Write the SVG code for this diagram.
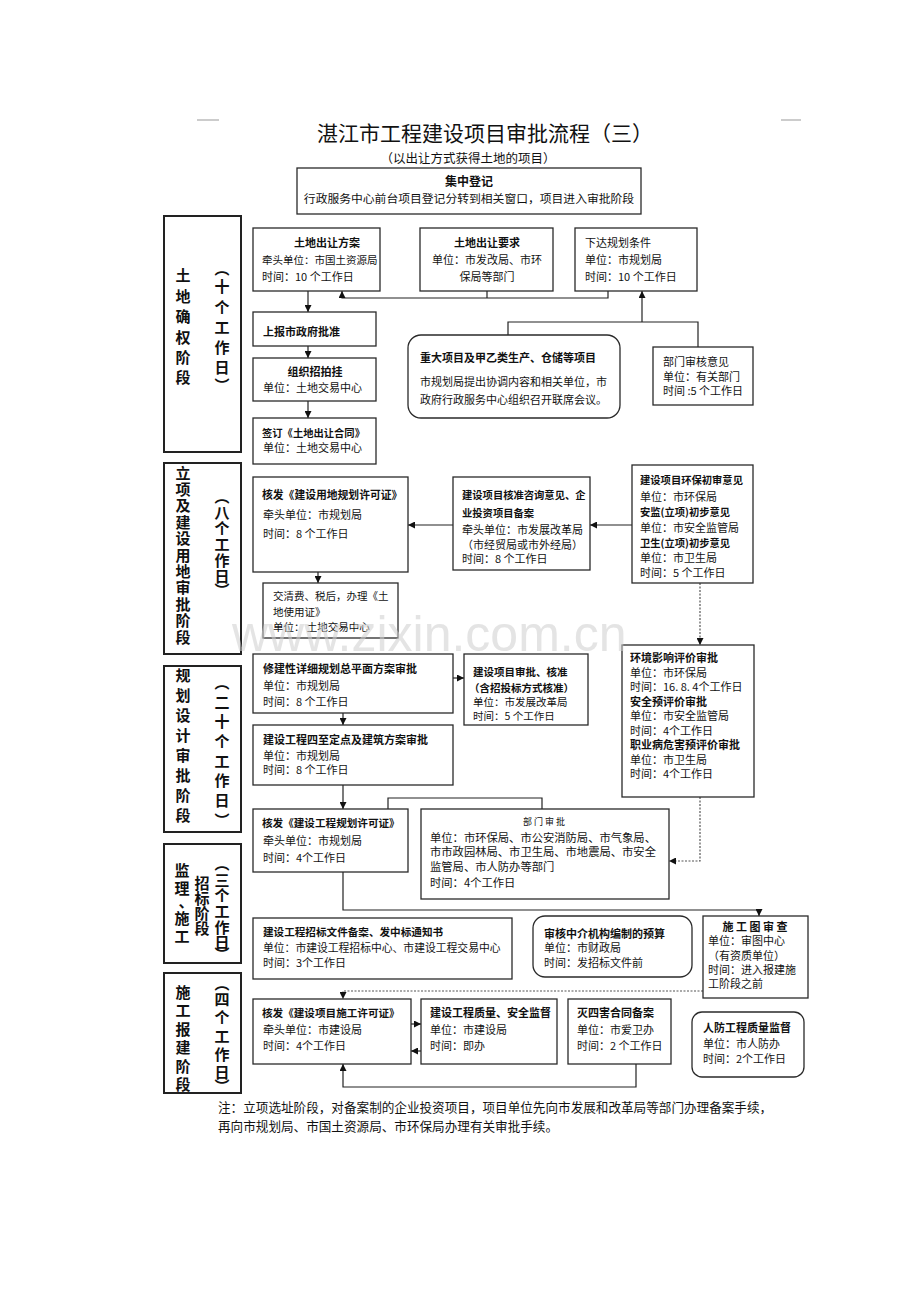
<svg xmlns="http://www.w3.org/2000/svg" width="920" height="1302" viewBox="0 0 920 1302">
<style>
text{font-family:"Noto Sans CJK SC","Noto Sans",sans-serif;fill:#111}
.t{font-size:11px}
.b{font-weight:bold}
.m{text-anchor:middle}
.box{fill:#fff;stroke:#2a2a2a;stroke-width:1.3}
.stg{fill:#fff;stroke:#222;stroke-width:2}
.st{font-size:15px;font-weight:bold;text-anchor:middle}
.ln{fill:none;stroke:#222;stroke-width:1.2}
.dt{fill:none;stroke:#555;stroke-width:1.2;stroke-dasharray:2 1.5}
.mk{fill:none;stroke:#999;stroke-width:1}
</style>
<defs>
<marker id="ah" viewBox="0 0 10 10" refX="10" refY="5" markerWidth="7" markerHeight="7" markerUnits="userSpaceOnUse" orient="auto"><path d="M0,0 L10,5 L0,10 z" fill="#111"/></marker>
</defs>
<rect width="920" height="1302" fill="#fff"/>
<line class="mk" x1="197" y1="120" x2="219" y2="120"/>
<line class="mk" x1="781" y1="120" x2="801" y2="120"/>
<g id="title">
<text x="485" y="141" class="m" style="font-size:21px">湛江市工程建设项目审批流程（三）</text>
<text x="468" y="163" class="m" style="font-size:12.5px">（以出让方式获得土地的项目）</text>
</g>
<g id="connectors">
<line class="ln" x1="308" y1="291" x2="308" y2="312" marker-end="url(#ah)"/>
<polyline class="ln" points="608,291 608,298 342,298 342,291" marker-end="url(#ah)"/>
<line class="ln" x1="487" y1="291" x2="487" y2="298"/>
<line class="ln" x1="642" y1="322" x2="642" y2="291" marker-end="url(#ah)"/>
<polyline class="ln" points="508,335 508,322 698,322 698,347"/>
<line class="ln" x1="308" y1="346" x2="308" y2="358" marker-end="url(#ah)"/>
<line class="ln" x1="308" y1="401" x2="308" y2="418" marker-end="url(#ah)"/>
<line class="ln" x1="453" y1="525" x2="408" y2="525" marker-end="url(#ah)"/>
<line class="ln" x1="632" y1="525" x2="590" y2="525" marker-end="url(#ah)"/>
<line class="ln" x1="318" y1="572" x2="318" y2="583" marker-end="url(#ah)"/>
<line class="dt" x1="700" y1="583" x2="700" y2="645" marker-end="url(#ah)"/>
<line class="ln" x1="453" y1="678" x2="464" y2="678" marker-end="url(#ah)"/>
<line class="ln" x1="343" y1="713" x2="343" y2="725" marker-end="url(#ah)"/>
<line class="ln" x1="343" y1="785" x2="343" y2="809" marker-end="url(#ah)"/>
<polyline class="ln" points="388,809 388,798 542,798 542,809"/>
<polyline class="dt" points="700,797 700,861 669,861" marker-end="url(#ah)"/>
<polyline class="ln" points="343,872 343,910 759,910 759,916" marker-end="url(#ah)"/>
<polyline class="dt" points="703,991 343,991 343,999" marker-end="url(#ah)"/>
<line class="ln" x1="411" y1="1024" x2="421" y2="1024" marker-end="url(#ah)"/>
<line class="ln" x1="421" y1="1051" x2="411" y2="1051" marker-end="url(#ah)"/>
<polyline class="ln" points="636,1064 636,1087 343,1087 343,1064" marker-end="url(#ah)"/>
</g>
<g id="stage1">
<rect class="stg" x="164" y="216" width="77" height="236"/>
<text class="st" x="183 183 183 183 183 183" y="280.5 301.5 321.5 342.5 362.5 382.5">土地确权阶段</text>
<text class="st" x="222 222 222 222 222 222 222" y="273.5 291.5 312.5 332.5 352.5 372.5 390.5">︵十个工作日︶</text>
</g>
<g id="stage2">
<rect class="stg" x="164" y="463" width="77" height="191"/>
<text class="st" x="183 183 183 183 183 183 183 183 183 183 183" y="478.5 494.9 511.3 527.7 544.1 560.5 576.9 593.3 609.7 626.1 642.5">立项及建设用地审批阶段</text>
<text class="st" x="222 222 222 222 222 222 222" y="501.5 517.5 533.5 549.5 565.5 581.5 595.5">︵八个工作日︶</text>
</g>
<g id="stage3">
<rect class="stg" x="164" y="666" width="77" height="166"/>
<text class="st" x="183 183 183 183 183 183 183 183" y="680.5 700.5 720.5 740.5 760.5 780.5 800.5 820.5">规划设计审批阶段</text>
<text class="st" x="222 222 222 222 222 222 222 222" y="687.5 707.5 726.5 746.5 766.5 785.5 805.5 825.5">︵二十个工作日︶</text>
</g>
<g id="stage4">
<rect class="stg" x="164" y="844" width="77" height="119"/>
<text class="st" x="182 182 186 182 182" y="875.5 893.5 906.5 923.5 941.5">监理、施工</text>
<text class="st" x="202 202 202 202" y="888.5 903.5 918.5 933.5">招标阶段</text>
<text class="st" x="222 222 222 222 222 222 222" y="868.5 885.5 900.5 916.5 932.5 947.5 959.5">︵三个工作日︶</text>
</g>
<g id="stage5">
<rect class="stg" x="164" y="973" width="77" height="120"/>
<text class="st" x="183 183 183 183 183 183" y="997.5 1015.5 1034.5 1052.5 1071.5 1089.5">施工报建阶段</text>
<text class="st" x="222 222 222 222 222 222 222" y="988.5 1004.5 1022.5 1041.5 1059.5 1077.5 1091.5">︵四个工作日︶</text>
</g>
<g id="n-jizhong">
<rect class="box" x="297" y="168" width="344" height="46"/>
<text class="t b m" x="469" y="185.5" style="font-size:12px">集中登记</text>
<text class="t m" x="469" y="202.5" style="font-size:11.8px">行政服务中心前台项目登记分转到相关窗口，项目进入审批阶段</text>
</g>
<g id="n-tdfa">
<rect class="box" x="253" y="228" width="127" height="63"/>
<text class="t b m" x="327" y="247">土地出让方案</text>
<text class="t" x="262" y="264" style="font-size:10.5px">牵头单位：市国土资源局</text>
<text class="t" x="262" y="281">时间：10 个工作日</text>
</g>
<g id="n-tdyq">
<rect class="box" x="420" y="228" width="133" height="63"/>
<text class="t b m" x="487" y="247">土地出让要求</text>
<text class="t m" x="487" y="264">单位：市发改局、市环</text>
<text class="t m" x="487" y="281">保局等部门</text>
</g>
<g id="n-xdgh">
<rect class="box" x="575" y="228" width="122" height="63"/>
<text class="t" x="585" y="247">下达规划条件</text>
<text class="t" x="585" y="264">单位：市规划局</text>
<text class="t" x="585" y="281">时间：10 个工作日</text>
</g>
<g id="n-sbzf">
<rect class="box" x="253" y="312" width="123" height="34"/>
<text class="t b" x="263" y="336">上报市政府批准</text>
</g>
<g id="n-zzzpg">
<rect class="box" x="253" y="358" width="123" height="43"/>
<text class="t b m" x="315" y="376">组织招拍挂</text>
<text class="t" x="263" y="392">单位：土地交易中心</text>
</g>
<g id="n-qd">
<rect class="box" x="253" y="418" width="123" height="46"/>
<text class="t b" x="262" y="437" style="font-size:10.3px">签订《土地出让合同》</text>
<text class="t" x="263" y="452">单位：土地交易中心</text>
</g>
<g id="n-zdxm">
<rect class="box" x="408" y="335" width="212" height="83" rx="13"/>
<text class="t b" x="420" y="362">重大项目及甲乙类生产、仓储等项目</text>
<text class="t" x="420" y="386">市规划局提出协调内容和相关单位，市</text>
<text class="t" x="420" y="404">政府行政服务中心组织召开联席会议。</text>
</g>
<g id="n-bmsh">
<rect class="box" x="653" y="347" width="100" height="58"/>
<text class="t" x="663" y="366">部门审核意见</text>
<text class="t" x="663" y="381">单位：有关部门</text>
<text class="t" x="663" y="395">时间 :5 个工作日</text>
</g>
<g id="n-hfyd">
<rect class="box" x="253" y="477" width="155" height="95"/>
<text class="t b" x="262" y="499" style="font-size:10.8px">核发《建设用地规划许可证》</text>
<text class="t" x="263" y="519">牵头单位：市规划局</text>
<text class="t" x="263" y="538">时间：8 个工作日</text>
</g>
<g id="n-hz">
<rect class="box" x="453" y="477" width="137" height="93"/>
<text class="t b" x="462" y="499" style="font-size:10.3px">建设项目核准咨询意见、企</text>
<text class="t b" x="462" y="517" style="font-size:10.3px">业投资项目备案</text>
<text class="t" x="462" y="534">牵头单位：市发展改革局</text>
<text class="t" x="462" y="549">（市经贸局或市外经局）</text>
<text class="t" x="462" y="563">时间：8 个工作日</text>
</g>
<g id="n-hb">
<rect class="box" x="632" y="465" width="121" height="118"/>
<text class="t b" x="640" y="484" style="font-size:10.3px">建设项目环保初审意见</text>
<text class="t" x="640" y="501">单位：市环保局</text>
<text class="t b" x="640" y="516" style="font-size:10.3px">安监(立项)初步意见</text>
<text class="t" x="640" y="532">单位：市安全监管局</text>
<text class="t b" x="640" y="547" style="font-size:10.3px">卫生(立项)初步意见</text>
<text class="t" x="640" y="562">单位：市卫生局</text>
<text class="t" x="640" y="577">时间：5 个工作日</text>
</g>
<g id="n-jqf">
<rect class="box" x="263" y="583" width="135" height="55"/>
<text class="t" x="273" y="600" style="font-size:10.5px">交清费、税后，办理《土</text>
<text class="t" x="273" y="616" style="font-size:10.5px">地使用证》</text>
<text class="t" x="273" y="631" style="font-size:10.5px">单位： 土地交易中心</text>
</g>
<g id="n-xjx">
<rect class="box" x="253" y="654" width="200" height="59"/>
<text class="t b" x="263" y="673">修建性详细规划总平面方案审批</text>
<text class="t" x="263" y="690">单位：市规划局</text>
<text class="t" x="263" y="706">时间：8 个工作日</text>
</g>
<g id="n-jssp">
<rect class="box" x="464" y="654" width="124" height="71"/>
<text class="t b" x="473" y="676" style="font-size:10.5px">建设项目审批、核准</text>
<text class="t b" x="469" y="692" style="font-size:10.5px">（含招投标方式核准）</text>
<text class="t" x="473" y="706" style="font-size:10.5px">单位：市发展改革局</text>
<text class="t" x="473" y="720" style="font-size:10.5px">时间：5 个工作日</text>
</g>
<g id="n-szdd">
<rect class="box" x="253" y="725" width="200" height="60"/>
<text class="t b" x="263" y="744">建设工程四至定点及建筑方案审批</text>
<text class="t" x="263" y="760">单位：市规划局</text>
<text class="t" x="263" y="774">时间：8 个工作日</text>
</g>
<g id="n-hjyx">
<rect class="box" x="622" y="645" width="132" height="152"/>
<text class="t b" x="630" y="662">环境影响评价审批</text>
<text class="t" x="630" y="677">单位：市环保局</text>
<text class="t" x="630" y="691">时间：16. 8. 4个工作日</text>
<text class="t b" x="630" y="706">安全预评价审批</text>
<text class="t" x="630" y="720">单位：市安全监管局</text>
<text class="t" x="630" y="735">时间：4个工作日</text>
<text class="t b" x="630" y="749">职业病危害预评价审批</text>
<text class="t" x="630" y="764">单位：市卫生局</text>
<text class="t" x="630" y="778">时间：4个工作日</text>
</g>
<g id="n-hfgh">
<rect class="box" x="253" y="809" width="155" height="63"/>
<text class="t b" x="262" y="827" style="font-size:10.6px">核发《建设工程规划许可证》</text>
<text class="t" x="263" y="845">牵头单位：市规划局</text>
<text class="t" x="263" y="862">时间：4个工作日</text>
</g>
<g id="n-bmsp">
<rect class="box" x="421" y="809" width="248" height="90"/>
<text class="t m" x="544" y="825" style="font-size:9px">部 门 审 批</text>
<text class="t" x="430" y="842" style="font-size:11.3px">单位：市环保局、市公安消防局、市气象局、</text>
<text class="t" x="430" y="856" style="font-size:11.3px">市市政园林局、市卫生局、市地震局、市安全</text>
<text class="t" x="430" y="871" style="font-size:11.3px">监管局、市人防办等部门</text>
<text class="t" x="430" y="887" style="font-size:11.3px">时间：4个工作日</text>
</g>
<g id="n-zbwj">
<rect class="box" x="253" y="918" width="259" height="61"/>
<text class="t b" x="263" y="936" style="font-size:10.6px">建设工程招标文件备案、发中标通知书</text>
<text class="t" x="263" y="952" style="font-size:10.8px">单位：市建设工程招标中心、市建设工程交易中心</text>
<text class="t" x="263" y="967">时间：3个工作日</text>
</g>
<g id="n-shzj">
<rect class="box" x="533" y="916" width="159" height="61" rx="12"/>
<text class="t b" x="544" y="938">审核中介机构编制的预算</text>
<text class="t" x="544" y="952">单位：市财政局</text>
<text class="t" x="544" y="967">时间：发招标文件前</text>
</g>
<g id="n-sgt">
<rect class="box" x="703" y="916" width="105" height="82"/>
<text class="t b m" x="755" y="931">施 工 图 审 查</text>
<text class="t" x="708" y="945">单位：审图中心</text>
<text class="t" x="708" y="960">（有资质单位）</text>
<text class="t" x="708" y="974">时间：进入报建施</text>
<text class="t" x="708" y="988">工阶段之前</text>
</g>
<g id="n-hfsg">
<rect class="box" x="253" y="999" width="158" height="65"/>
<text class="t b" x="262" y="1017" style="font-size:10.6px">核发《建设项目施工许可证》</text>
<text class="t" x="263" y="1034">牵头单位：市建设局</text>
<text class="t" x="263" y="1050">时间：4个工作日</text>
</g>
<g id="n-zljd">
<rect class="box" x="421" y="999" width="136" height="65"/>
<text class="t b" x="430" y="1017">建设工程质量、安全监督</text>
<text class="t" x="430" y="1034">单位：市建设局</text>
<text class="t" x="430" y="1050">时间：即办</text>
</g>
<g id="n-mshs">
<rect class="box" x="568" y="999" width="103" height="65"/>
<text class="t b" x="577" y="1017">灭四害合同备案</text>
<text class="t" x="577" y="1034">单位：市爱卫办</text>
<text class="t" x="577" y="1050">时间：2 个工作日</text>
</g>
<g id="n-rf">
<rect class="box" x="692" y="1012" width="112" height="65" rx="10"/>
<text class="t b" x="703" y="1032">人防工程质量监督</text>
<text class="t" x="703" y="1048">单位：市人防办</text>
<text class="t" x="703" y="1063">时间：2个工作日</text>
</g>
<g id="note">
<text x="218" y="1112" style="font-size:12.6px">注：立项选址阶段，对备案制的企业投资项目，项目单位先向市发展和改革局等部门办理备案手续，</text>
<text x="218" y="1131" style="font-size:12.6px">再向市规划局、市国土资源局、市环保局办理有关审批手续。</text>
</g>
<text x="232" y="651" style="font-family:'Liberation Sans',Arial,sans-serif;font-size:50px;fill:#cfcfcf;opacity:0.55">www.zixin.com.cn</text>
</svg>
